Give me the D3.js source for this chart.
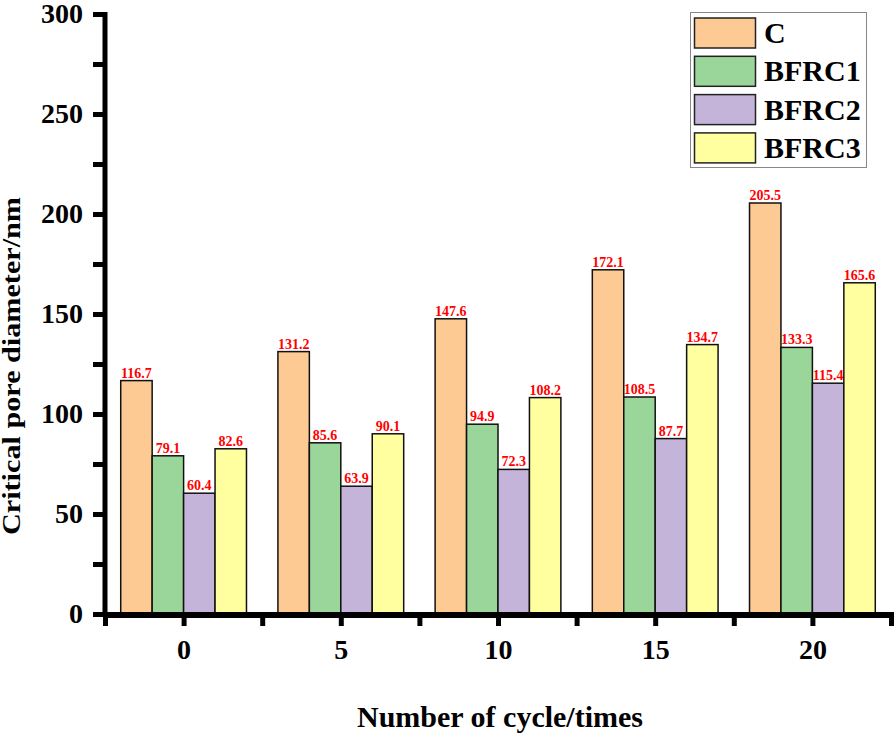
<!DOCTYPE html>
<html>
<head>
<meta charset="utf-8">
<script src="https://cdn.jsdelivr.net/npm/d3@7"></script>
<style>
  html, body { margin: 0; padding: 0; background: #fff; }
  svg { display: block; }
  svg text { font-family: "Liberation Serif", "Tinos", "Times New Roman", Times, "DejaVu Serif", serif; }
</style>
</head>
<body>
<svg id="chart" width="896" height="736"></svg>
<script>
const cycles = [0, 5, 10, 15, 20];
const seriesNames = ["C", "BFRC1", "BFRC2", "BFRC3"];
const valuesC = [116.7, 131.2, 147.6, 172.1, 205.5];
const valuesBFRC1 = [79.1, 85.6, 94.9, 108.5, 133.3];
const valuesBFRC2 = [60.4, 63.9, 72.3, 87.7, 115.4];
const valuesBFRC3 = [82.6, 90.1, 108.2, 134.7, 165.6];
const seriesColors = ["#FDCA94", "#9AD59A", "#C5B4D9", "#FFFFA0"];
const yMajorTicks = [0, 50, 100, 150, 200, 250, 300];
const yMinorTicks = [25, 75, 125, 175, 225, 275];
const xMajorTicks = [0, 5, 10, 15, 20];
const xMinorTicks = [-2.5, 2.5, 7.5, 12.5, 17.5, 22.5];

const allSeries = [valuesC, valuesBFRC1, valuesBFRC2, valuesBFRC3];
const offsets = [-1.5, -0.5, 0.5, 1.5];
const FONT = '"Liberation Serif", "Tinos", "Times New Roman", Times, "DejaVu Serif", serif';

const svg = d3.select("#chart");
const x = d3.scaleLinear().domain([-2.5, 22.5]).range([105, 891]);
const y = d3.scaleLinear().domain([0, 300]).range([614, 14]);
const barW = x(1) - x(0);

// bars
seriesNames.forEach((name, si) => {
  const g = svg.append("g");
  const data = cycles.map((c, i) => ({c, v: allSeries[si][i]}));
  g.selectAll("rect").data(data)
    .enter().append("rect")
    .attr("x", d => x(d.c + offsets[si]) - barW / 2)
    .attr("y", d => y(d.v))
    .attr("width", barW)
    .attr("height", d => y(0) - y(d.v))
    .attr("fill", seriesColors[si])
    .attr("stroke", "#111")
    .attr("stroke-width", 1.5);
  g.selectAll("text").data(data)
    .enter().append("text")
    .attr("x", d => x(d.c + offsets[si]))
    .attr("y", d => y(d.v) - 3)
    .attr("text-anchor", "middle")
    .style("font-family", FONT)
    .attr("font-size", 14)
    .attr("font-weight", "bold")
    .attr("fill", "#FF0000")
    .text(d => d.v.toFixed(1));
});

// y axis
const yAxisMajor = d3.axisLeft(y).tickValues(yMajorTicks).tickSize(12).tickSizeOuter(0).tickPadding(10).tickFormat(d3.format("d"));
const yAxisMinor = d3.axisLeft(y).tickValues(yMinorTicks).tickSize(12).tickSizeOuter(0).tickFormat("");
const gyMinor = svg.append("g").attr("transform", "translate(105,0)").call(yAxisMinor);
const gy = svg.append("g").attr("transform", "translate(105,0)").call(yAxisMajor);
[gy, gyMinor].forEach(g => {
  g.attr("font-family", null);
  g.selectAll(".tick line").attr("stroke", "#000").attr("stroke-width", 5);
  g.select(".domain").remove();
});
gy.selectAll(".tick text")
  .style("font-family", FONT)
  .attr("font-size", 28).attr("font-weight", "bold").attr("fill", "#000");

// x axis
const xAxisMajor = d3.axisBottom(x).tickValues(xMajorTicks).tickSize(12).tickSizeOuter(0).tickPadding(13).tickFormat(d3.format("d"));
const xAxisMinor = d3.axisBottom(x).tickValues(xMinorTicks).tickSize(12).tickSizeOuter(0).tickFormat("");
const gxMinor = svg.append("g").attr("transform", "translate(0,614)").call(xAxisMinor);
const gx = svg.append("g").attr("transform", "translate(0,614)").call(xAxisMajor);
[gx, gxMinor].forEach(g => {
  g.attr("font-family", null);
  g.selectAll(".tick line").attr("stroke", "#000").attr("stroke-width", 5);
  g.select(".domain").remove();
});
gx.selectAll(".tick text")
  .style("font-family", FONT)
  .attr("font-size", 28).attr("font-weight", "bold").attr("fill", "#000");

// axis lines
svg.append("line").attr("x1", 105).attr("x2", 105).attr("y1", 12).attr("y2", 617)
  .attr("stroke", "#000").attr("stroke-width", 5);
svg.append("line").attr("x1", 103).attr("x2", 894).attr("y1", 615).attr("y2", 615)
  .attr("stroke", "#000").attr("stroke-width", 6);

// axis titles
svg.append("text")
  .attr("x", 500).attr("y", 727)
  .attr("text-anchor", "middle")
  .style("font-family", FONT)
  .attr("font-size", 30).attr("font-weight", "bold")
  .text("Number of cycle/times");

svg.append("text")
  .attr("transform", "translate(20,366) rotate(-90)")
  .attr("text-anchor", "middle")
  .style("font-family", FONT)
  .attr("font-size", 25).attr("font-weight", "bold")
  .attr("textLength", 338).attr("lengthAdjust", "spacingAndGlyphs")
  .text("Critical pore diameter/nm");

// legend
const lg = svg.append("g");
lg.append("rect").attr("x", 690.5).attr("y", 12.5).attr("width", 176).attr("height", 155)
  .attr("fill", "#fff").attr("stroke", "#888").attr("stroke-width", 1);
seriesNames.forEach((name, i) => {
  const top = 18 + i * 38.3;
  lg.append("rect").attr("x", 694.5).attr("y", top).attr("width", 61).attr("height", 30)
    .attr("fill", seriesColors[i]).attr("stroke", "#222").attr("stroke-width", 1.5);
  lg.append("text").attr("x", 764).attr("y", top + 25)
    .style("font-family", FONT)
    .attr("font-size", 30).attr("font-weight", "bold").text(name);
});
</script>
</body>
</html>
